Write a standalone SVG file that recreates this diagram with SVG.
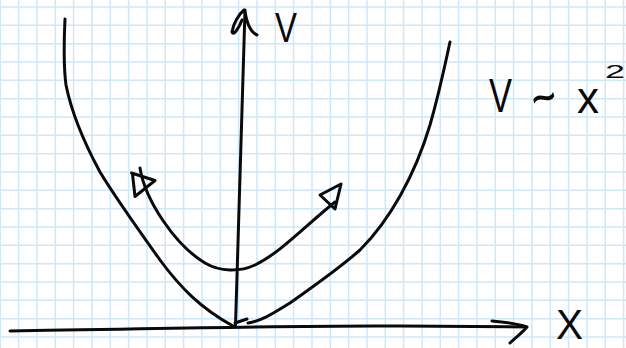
<svg xmlns="http://www.w3.org/2000/svg" width="626" height="348" viewBox="0 0 626 348">
<style>
.grid{stroke:#cde8fa;stroke-width:1.5;fill:none}
.ink{stroke:#0a0a0a;stroke-width:3;fill:none;stroke-linecap:round;stroke-linejoin:round}
.lbl{font-family:"Liberation Sans",Arial,sans-serif;fill:#0a0a0a}
</style>
<rect width="626" height="348" fill="#ffffff"/>
<g id="grid">
<path class="grid" d="M0.3,0V348M18.6,0V348M37,0V348M55.3,0V348M73.6,0V348M92,0V348M110.3,0V348M128.6,0V348M147,0V348M165.3,0V348M183.6,0V348M202,0V348M220.3,0V348M238.6,0V348M257,0V348M275.3,0V348M293.6,0V348M312,0V348M330.3,0V348M348.6,0V348M367,0V348M385.3,0V348M403.6,0V348M422,0V348M440.3,0V348M458.6,0V348M477,0V348M495.3,0V348M513.6,0V348M532,0V348M550.3,0V348M568.6,0V348M587,0V348M605.3,0V348M623.6,0V348"/>
<path class="grid" d="M0,7H626M0,25.3H626M0,43.7H626M0,62H626M0,80.3H626M0,98.7H626M0,117H626M0,135.3H626M0,153.7H626M0,172H626M0,190.3H626M0,208.7H626M0,227H626M0,245.3H626M0,263.7H626M0,282H626M0,300.3H626M0,318.7H626M0,337H626"/>
</g>
<g id="connectors">
<g id="x-axis">
<path class="ink" d="M10,331 C150,329 300,325 400,326 L526,327"/>
<path class="ink" d="M492,321 C505,322 518,324 527,327 C522,333 515,338 510,343"/>
</g>
<g id="v-axis">
<path class="ink" d="M235.5,326 C238,250 241,150 245,10"/>
<path class="ink" d="M244,10 C239,14 233,24 232,32 C233,36 238,30 242,20"/>
<path class="ink" d="M245,12 C247,24 250,32 257,35"/>
</g>
<g id="parabola">
<path class="ink" d="M65,19 C64,40 64,70 66,85 C70,105 80,135 100,172 C115,197 140,232 160,260 C180,287 200,308 233,326"/>
<path class="ink" d="M235,323 L247,319"/>
<path class="ink" d="M248,323 C262,321 275,312 290,303 C305,292 335,272 360,250 C390,220 415,175 430,125 C440,90 446,60 450,42"/>
</g>
<g id="motion">
<path class="ink" d="M140,168 C145,200 175,245 205,263 C220,272 240,272 255,265 C280,253 305,226 335,202"/>
<path class="ink" d="M131.5,173 L155,180.5 L135,196.5 L132.5,174"/>
<path class="ink" d="M320,195 L341,184 L335,209 Z"/>
</g>
</g>
<g id="labels">
<text class="lbl" x="275" y="42" font-size="42" textLength="22" lengthAdjust="spacingAndGlyphs">V</text>
<text class="lbl" x="489" y="112" font-size="48" textLength="23" lengthAdjust="spacingAndGlyphs">V</text>
<text class="lbl" transform="translate(543,97) rotate(-16) scale(1,1.5)" x="-12" y="14" font-size="40" textLength="25" lengthAdjust="spacingAndGlyphs">~</text>
<text class="lbl" x="577" y="113" font-size="44" textLength="22" lengthAdjust="spacingAndGlyphs">x</text>
<text class="lbl" x="605" y="78" font-size="19" textLength="20" lengthAdjust="spacingAndGlyphs">2</text>
<text class="lbl" x="556" y="339" font-size="42" textLength="27" lengthAdjust="spacingAndGlyphs">X</text>
</g>
</svg>
